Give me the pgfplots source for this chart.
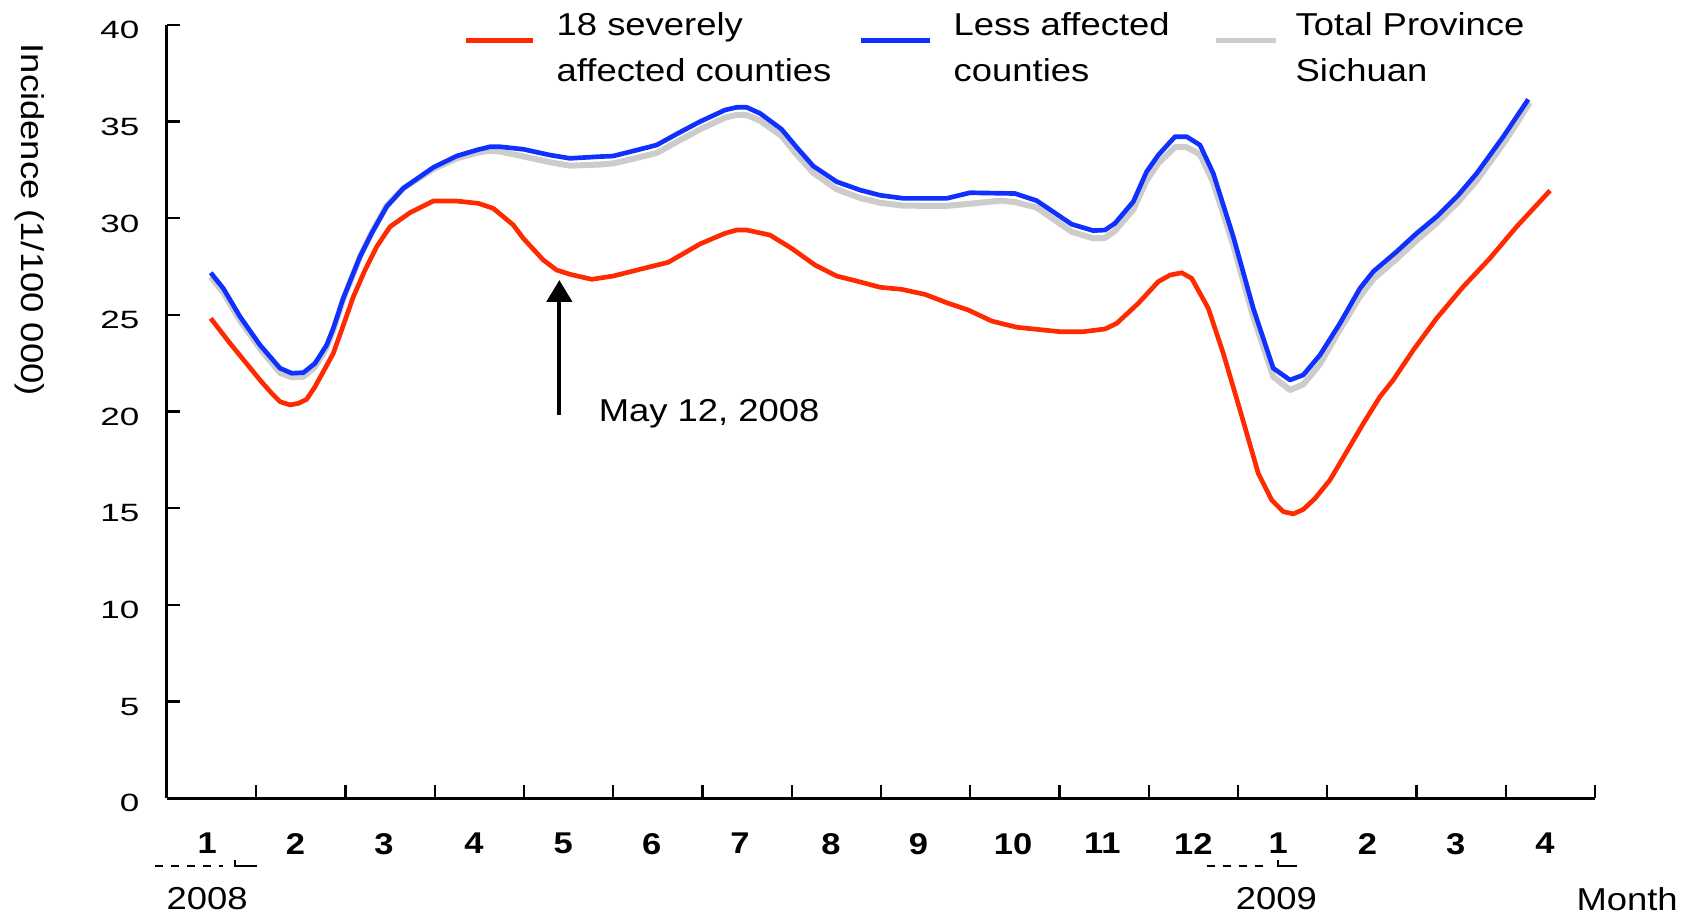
\documentclass[border=0pt]{standalone}
\usepackage{pgfplots}
\pgfplotsset{compat=1.18}
\usepackage{fontspec}
\setmainfont[FakeStretch=1.15]{Liberation Sans}
\newfontfamily\tickfont[FakeStretch=1.4]{Liberation Sans}
\usetikzlibrary{arrows.meta}
\definecolor{sred}{RGB}{255,42,0}
\definecolor{sblue}{RGB}{16,48,255}
\definecolor{sgray}{RGB}{204,204,204}

\pgfplotstableread{
x y
0.49 24.82
0.706 23.53
0.874 22.58
1.042 21.63
1.173 20.94
1.266 20.51
1.378 20.34
1.471 20.42
1.565 20.63
1.658 21.28
1.751 22.06
1.863 23.01
1.957 24.22
2.088 25.94
2.219 27.32
2.350 28.53
2.499 29.56
2.723 30.29
2.984 30.89
3.246 30.89
3.488 30.77
3.656 30.51
3.880 29.65
3.992 28.96
4.216 27.84
4.365 27.32
4.515 27.10
4.758 26.84
5.0 27.01
5.3 27.36
5.617 27.72
5.972 28.67
6.252 29.22
6.383 29.39
6.495 29.39
6.756 29.13
6.999 28.44
7.26 27.58
7.503 27.01
7.727 26.75
7.989 26.43
8.232 26.32
8.493 26.06
8.736 25.63
8.978 25.25
9.240 24.68
9.520 24.36
9.75 24.25
10.005 24.13
10.267 24.13
10.510 24.27
10.641 24.56
10.883 25.60
11.107 26.72
11.238 27.06
11.369 27.18
11.481 26.89
11.667 25.34
11.835 23.01
12.022 20.08
12.227 16.80
12.377 15.42
12.507 14.82
12.619 14.70
12.731 14.93
12.863 15.50
13.031 16.46
13.218 17.92
13.405 19.39
13.591 20.77
13.739 21.63
13.964 23.18
14.225 24.82
14.524 26.46
14.823 27.93
15.121 29.56
15.496 31.43
}\severe

\pgfplotstableread{
x y
0.49 27.18
0.631 26.37
0.818 24.91
1.042 23.44
1.266 22.24
1.397 21.98
1.528 22.01
1.658 22.49
1.789 23.44
1.863 24.30
1.975 25.86
2.162 28.01
2.293 29.22
2.461 30.60
2.648 31.55
2.984 32.63
3.246 33.22
3.470 33.53
3.619 33.70
3.731 33.70
3.992 33.57
4.291 33.27
4.515 33.10
4.852 33.19
5.0 33.22
5.225 33.48
5.487 33.79
5.711 34.36
5.972 35.00
6.252 35.60
6.383 35.74
6.495 35.74
6.644 35.43
6.887 34.60
7.055 33.67
7.241 32.70
7.503 31.89
7.765 31.46
7.989 31.19
8.250 31.03
8.736 31.03
8.997 31.32
9.501 31.28
9.744 30.91
10.136 29.69
10.378 29.36
10.510 29.39
10.622 29.74
10.827 30.86
10.976 32.41
11.107 33.27
11.294 34.22
11.425 34.22
11.574 33.79
11.723 32.32
11.947 29.05
12.171 25.34
12.395 22.24
12.582 21.63
12.731 21.89
12.918 22.92
13.142 24.56
13.366 26.37
13.515 27.24
13.777 28.27
14.001 29.22
14.225 30.08
14.468 31.20
14.674 32.32
14.972 34.22
15.121 35.25
15.252 36.15
}\less

\pgfplotstableread{
x y
0.49 26.98
0.631 26.15
0.818 24.7
1.042 23.25
1.266 22.0
1.397 21.78
1.528 21.8
1.658 22.3
1.789 23.3
1.863 24.2
1.975 25.8
2.162 28.0
2.293 29.25
2.461 30.65
2.648 31.55
2.984 32.55
3.246 33.1
3.470 33.38
3.619 33.5
3.731 33.45
3.992 33.2
4.291 32.9
4.515 32.72
4.852 32.78
5.0 32.84
5.225 33.08
5.487 33.38
5.711 33.95
5.972 34.6
6.252 35.2
6.383 35.35
6.495 35.34
6.644 35.05
6.887 34.25
7.055 33.3
7.241 32.35
7.503 31.5
7.765 31.05
7.989 30.8
8.250 30.65
8.736 30.64
8.997 30.75
9.34 30.91
9.501 30.84
9.744 30.55
10.136 29.3
10.378 28.96
10.510 28.98
10.622 29.35
10.827 30.45
10.976 31.95
11.107 32.85
11.294 33.68
11.425 33.68
11.574 33.3
11.723 31.85
11.947 28.6
12.171 24.9
12.395 21.8
12.582 21.11
12.731 21.4
12.918 22.45
13.142 24.25
13.366 25.95
13.515 26.85
13.777 27.9
14.001 28.85
14.225 29.75
14.468 30.85
14.674 31.95
14.972 33.85
15.121 34.9
15.27 36.0
}\total

\begin{document}
\begin{tikzpicture}[txt/.style={font=\fontsize{9.5}{13.7}\selectfont, inner sep=0pt}]
\begin{axis}[
  scale only axis, width=428.4pt, height=231.9pt,
  xmin=0, xmax=16, ymin=0, ymax=40,
  axis x line=bottom, axis y line=left,
  axis line style={-, line width=0.9pt},
  xtick={1,...,16}, xticklabels={},
  ytick={0,5,...,40},
  xtick align=inside, ytick align=inside,
  major tick length=4pt,
  tick style={black, line width=0.7pt},
  /pgf/number format/assume math mode=true,
  yticklabel style={font=\tickfont\fontsize{7.5}{9}\selectfont, inner sep=0pt, anchor=east, xshift=-8.1pt, yshift=-1.6pt},
  extra x ticks={0.45,1.44,2.43,3.44,4.44,5.43,6.42,7.44,8.42,9.48,10.48,11.5,12.45,13.45,14.44,15.44},
  extra x tick labels={\textbf{1},\textbf{2},\textbf{3},\textbf{4},\textbf{5},\textbf{6},\textbf{7},\textbf{8},\textbf{9},\textbf{10},\textbf{11},\textbf{12},\textbf{1},\textbf{2},\textbf{3},\textbf{4}},
  extra x tick style={major tick length=0pt, xticklabel style={font=\fontsize{9}{11}\selectfont, yshift=-7pt}},
  clip=false,
]
\coordinate (O) at (rel axis cs:0,0);
\coordinate (TR) at (rel axis cs:1,1);
\coordinate (TL) at (rel axis cs:0,1);
\addplot[sgray, line width=1.8pt, line join=round] table[x=x,y=y] {\total};
\addplot[sblue, line width=1.4pt, line join=round] table[x=x,y=y] {\less};
\addplot[sred, line width=1.4pt, line join=round] table[x=x,y=y] {\severe};

\draw[line width=1.2pt, -{Triangle[width=7.5pt,length=6.5pt]}] (axis cs:4.396,19.82) -- (axis cs:4.396,26.8);
\node[txt, anchor=base west] at (axis cs:4.83,19.46) {May 12, 2008};

\node[txt] at (axis cs:0.45,0) [yshift=-30.3pt] {2008};
\node[txt] at (axis cs:12.43,0) [yshift=-30.3pt] {2009};
\node[txt] at (axis cs:16.36,0) [yshift=-30.3pt] {Month};
\draw[line width=0.5pt, dash pattern=on 2.4pt off 2.4pt] ([yshift=-20.4pt]axis cs:-0.13,0) -- ([yshift=-20.4pt]axis cs:0.63,0);
\draw[line width=0.5pt] ([yshift=-18.6pt]axis cs:0.76,0) -- ([yshift=-20.4pt]axis cs:0.76,0) -- ([yshift=-20.4pt]axis cs:1.01,0);
\draw[line width=0.5pt, dash pattern=on 2.4pt off 2.4pt] ([yshift=-20.4pt]axis cs:11.65,0) -- ([yshift=-20.4pt]axis cs:12.36,0);
\draw[line width=0.5pt] ([yshift=-18.6pt]axis cs:12.45,0) -- ([yshift=-20.4pt]axis cs:12.45,0) -- ([yshift=-20.4pt]axis cs:12.66,0);
\end{axis}
% legend
\draw[sred, line width=1.5pt] ([shift={(89.7pt,-4.7pt)}]TL) -- ([shift={(109.8pt,-4.7pt)}]TL);
\node[txt, anchor=base west] at ([shift={(116.7pt,-3.3pt)}]TL) {18 severely};
\node[txt, anchor=base west] at ([shift={(116.7pt,-17pt)}]TL) {affected counties};
\draw[sblue, line width=1.5pt] ([shift={(208.2pt,-4.7pt)}]TL) -- ([shift={(228.9pt,-4.7pt)}]TL);
\node[txt, anchor=base west] at ([shift={(235.8pt,-3.3pt)}]TL) {Less affected};
\node[txt, anchor=base west] at ([shift={(235.8pt,-17pt)}]TL) {counties};
\draw[sgray, line width=1.5pt] ([shift={(314.7pt,-4.7pt)}]TL) -- ([shift={(332.7pt,-4.7pt)}]TL);
\node[txt, anchor=base west] at ([shift={(338.4pt,-3.3pt)}]TL) {Total Province};
\node[txt, anchor=base west] at ([shift={(338.4pt,-17pt)}]TL) {Sichuan};
% y label
\node[txt, rotate=-90, anchor=west] at ([xshift=-41.1pt, yshift=-5.4pt]TL) {Incidence (1/100 000)};
\pgfresetboundingbox
\path[use as bounding box] ([shift={(-50.1pt,-36pt)}]O) rectangle ([shift={(29.1pt,7.5pt)}]TR);
\end{tikzpicture}
\end{document}
